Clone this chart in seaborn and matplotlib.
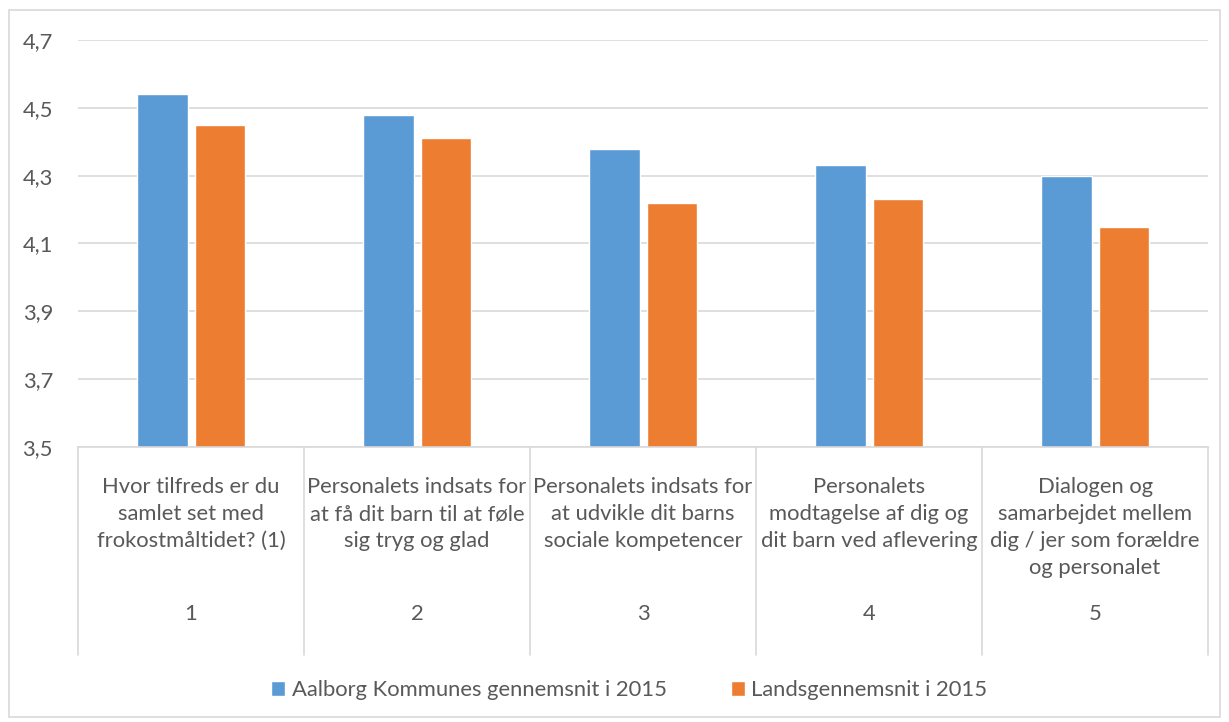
import numpy as np
import pandas as pd
import matplotlib
matplotlib.use("Agg")
import matplotlib.pyplot as plt
import matplotlib.transforms as mtransforms
from matplotlib.patches import Rectangle
import seaborn as sns

categories = ["1", "2", "3", "4", "5"]
questions = [
    "Hvor tilfreds er du\nsamlet set med\nfrokostmåltidet? (1)",
    "Personalets indsats for\nat få dit barn til at føle\nsig tryg og glad",
    "Personalets indsats for\nat udvikle dit barns\nsociale kompetencer",
    "Personalets\nmodtagelse af dig og\ndit barn ved aflevering",
    "Dialogen og\nsamarbejdet mellem\ndig / jer som forældre\nog personalet",
]
series_names = ["Aalborg Kommunes gennemsnit i 2015", "Landsgennemsnit i 2015"]
aalborg = [4.54, 4.48, 4.38, 4.33, 4.30]
lands = [4.45, 4.41, 4.22, 4.23, 4.15]
yticks = [3.5, 3.7, 3.9, 4.1, 4.3, 4.5, 4.7]

df = pd.DataFrame({
    "kat": categories * 2,
    "serie": [series_names[0]] * 5 + [series_names[1]] * 5,
    "vaerdi": aalborg + lands,
})

sns.set_style("white")
plt.rcParams["font.family"] = ["Lato", "DejaVu Sans"]
txt = "#595959"
grid = "#d9d9d9"
fs = 15.8

fig = plt.figure(figsize=(12.29, 7.22), dpi=100)
ax = fig.add_axes([0.0635, 0.381, 0.9195, 0.5636])

sns.barplot(data=df, x="kat", y="vaerdi", hue="serie", order=categories,
            palette=["#5B9BD5", "#ED7D31"], width=0.51, gap=0.12,
            saturation=1, ax=ax, legend=True)

ax.set_ylim(3.5, 4.7)
ax.set_xlim(-0.5, 4.5)
ax.set_yticks(yticks)
ax.set_yticklabels([f"{v:.1f}".replace(".", ",") for v in yticks], color=txt, fontsize=fs)
ax.tick_params(axis="y", length=0, pad=18)
ax.set_xticks([])
ax.set_xlabel("")
ax.set_ylabel("")
ax.yaxis.grid(True, color=grid, linewidth=1.2)
ax.set_axisbelow(True)
for s in ["top", "right", "left"]:
    ax.spines[s].set_visible(False)
ax.spines["bottom"].set_color(grid)
ax.spines["bottom"].set_linewidth(1.2)

trans = mtransforms.blended_transform_factory(ax.transData, ax.transAxes)
for i, q in enumerate(questions):
    ax.text(i, -0.075, q, transform=trans, ha="center", va="top",
            fontsize=fs, color=txt, linespacing=1.42)
    ax.text(i, -0.41, categories[i], transform=trans, ha="center", va="center",
            fontsize=fs, color=txt)
for b in np.arange(-0.5, 5, 1.0):
    ax.plot([b, b], [0, -0.511], transform=trans, color=grid, lw=1.2, clip_on=False)

ax.legend(loc="center", bbox_to_anchor=(0.512, 0.044), bbox_transform=fig.transFigure,
          ncol=2, frameon=False, fontsize=fs, handlelength=0.65, handleheight=0.65,
          handletextpad=0.3, columnspacing=2.9, labelcolor=txt)

fig.patches.append(Rectangle((0.0073, 0.007), 0.9854, 0.979, transform=fig.transFigure,
                             fill=False, edgecolor=grid, linewidth=1.2))

fig.savefig("out.png", dpi=100, facecolor="white")
